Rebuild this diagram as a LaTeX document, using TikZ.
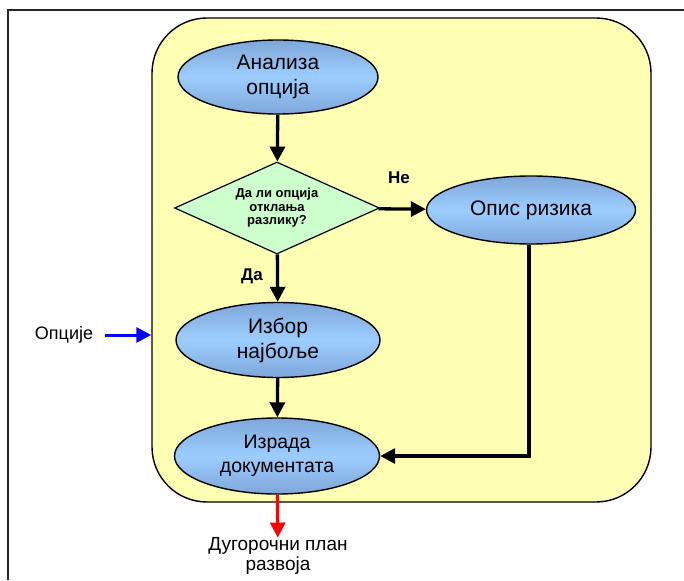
\documentclass[tikz,border=0pt]{standalone}
\usepackage{fontspec}
\setmainfont{Liberation Sans}
\usetikzlibrary{shapes.geometric,arrows.meta}
\definecolor{panelyellow}{HTML}{FFFFB4}
\definecolor{elllight}{HTML}{9DCDFF}
\definecolor{elldark}{HTML}{7DA7D8}
\definecolor{decgreen}{HTML}{CCFFCC}
\begin{document}
\begin{tikzpicture}[x=1pt,y=-1pt,
    proc/.style={ellipse, draw, line width=1.4pt, top color=elldark, bottom color=elldark,
      middle color=elllight, align=center, inner sep=0pt,
      font=\fontsize{21}{25}\selectfont},
    decide/.style={diamond, draw, line width=1.2pt, fill=decgreen, align=center,
      inner sep=1pt, shape aspect=2.2, font=\fontsize{13}{13.5}\selectfont\bfseries},
    flow/.style={line width=3.3pt, -{Triangle[length=15pt,width=15pt]}}]
    \useasboundingbox (0,0) rectangle (684,580);
    \draw[line width=1.3pt, black!85] (8,580) -- (8,10) -- (684,10);
    \node[draw, line width=1.4pt, fill=panelyellow, rounded corners=55pt,
      minimum width=499pt, minimum height=484pt] (panel) at (401.5,260) {};
    \node[proc, minimum width=200pt, minimum height=74pt] (analiza) at (278,77) {Анализа\\опција};
    \node[decide, minimum width=205pt, minimum height=92pt] (pitanje) at (277,208) {Да ли опција\\отклања\\разлику?};
    \node[proc, minimum width=209pt, minimum height=68pt] (rizik) at (531,210) {Опис ризика};
    \node[proc, minimum width=204pt, minimum height=75pt] (izbor) at (278,340) {Избор\\најбоље};
    \node[proc, minimum width=205pt, minimum height=76pt, font=\fontsize{19.5}{24}\selectfont] (izrada) at (277,456) {Израда\\документата};
    \node[font=\fontsize{17}{18}\selectfont\bfseries] (ne) at (399,178) {Не};
    \node[font=\fontsize{17}{18}\selectfont\bfseries] (da) at (252,276) {Да};
    \node[font=\fontsize{18}{22}\selectfont] (opcije) at (64,335) {Опције};
    \node[align=center, inner sep=0pt, font=\fontsize{19}{19.5}\selectfont] (plan) at (278,556) {Дугорочни план\\развоја};
    \draw[flow] (analiza) -- (pitanje);
    \draw[flow] (pitanje) -- (rizik);
    \draw[flow] (pitanje) -- (izbor);
    \draw[flow] (izbor) -- (izrada);
    \draw[flow] ([xshift=-2pt]rizik.south) |- (izrada.east);
    \draw[line width=3pt, blue, -{Triangle[length=15pt,width=15pt]}] ([xshift=8pt]opcije.east) -- (opcije.east -| panel.west);
    \draw[line width=3pt, red, -{Triangle[length=15pt,width=15pt]}] (izrada) -- (plan);
\end{tikzpicture}
\end{document}
